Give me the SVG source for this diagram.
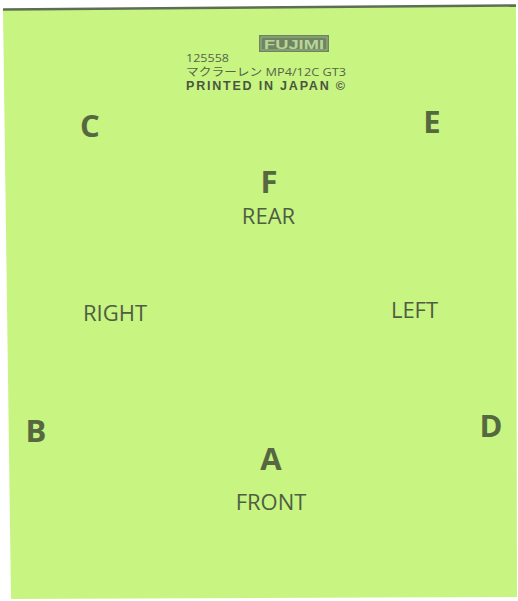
<svg xmlns="http://www.w3.org/2000/svg" width="518" height="601" viewBox="0 0 518 601">
<defs>
<style>
.bold{font-family:"Open Sans","Noto Sans",sans-serif;font-weight:700;font-size:31px;fill:#56683f;text-anchor:middle}
.reg{font-family:"Open Sans","Noto Sans",sans-serif;font-weight:400;font-size:22px;fill:#4f5d43;text-anchor:middle}
.small{font-family:"Open Sans","Noto Sans CJK JP",sans-serif;font-size:11px;fill:#56644a}
</style>
</defs>
<rect width="518" height="601" fill="#ffffff"/>
<g id="sheet">
<polygon points="3,9 516,5 517,597 11,599" fill="#c8f481"/>
<polyline points="3,9.5 516,5.5" fill="none" stroke="#5c6e54" stroke-width="2.5"/>
</g>
<g id="header">
<g id="logo">
<rect x="259" y="35" width="70" height="17" fill="#6f8560"/>
<rect x="261" y="37" width="66" height="13" fill="none" stroke="#a9c08e" stroke-width="0.8"/>
<text x="294" y="48.5" text-anchor="middle" font-family="'Liberation Sans',sans-serif" font-weight="700" font-size="12" fill="#b9d49a" textLength="60" lengthAdjust="spacingAndGlyphs">FUJIMI</text>
</g>
<text class="small" x="186" y="62" font-size="10.5" textLength="43" lengthAdjust="spacingAndGlyphs">125558</text>
<text class="small" x="186" y="76" font-size="11.5" textLength="160" lengthAdjust="spacingAndGlyphs">マクラーレン MP4/12C GT3</text>
<text x="186" y="90" font-family="'Liberation Sans',Arial,sans-serif" font-weight="700" font-size="12.5" fill="#4a5540" textLength="159" lengthAdjust="spacing">PRINTED IN JAPAN ©</text>
</g>
<g id="node-C"><text class="bold" x="90" y="137">C</text></g>
<g id="node-E"><text class="bold" x="432" y="133">E</text></g>
<g id="node-F"><text class="bold" x="269" y="193">F</text></g>
<g id="label-REAR"><text class="reg" x="268.5" y="224">REAR</text></g>
<g id="label-RIGHT"><text class="reg" x="115" y="321">RIGHT</text></g>
<g id="label-LEFT"><text class="reg" x="414.5" y="318">LEFT</text></g>
<g id="node-B"><text class="bold" x="36" y="442">B</text></g>
<g id="node-D"><text class="bold" x="491" y="437">D</text></g>
<g id="node-A"><text class="bold" x="271" y="470">A</text></g>
<g id="label-FRONT"><text class="reg" x="271" y="510">FRONT</text></g>
<g id="connectors"/>
</svg>
